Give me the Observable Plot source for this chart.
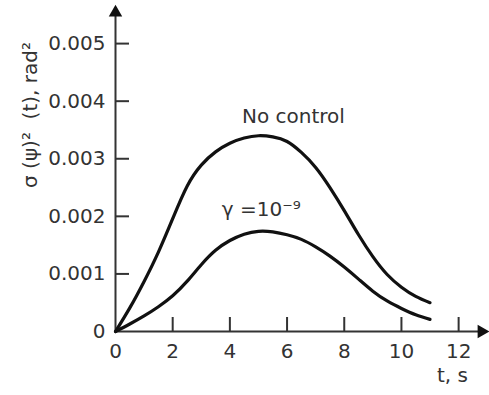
<!DOCTYPE html>
<html>
<head>
<meta charset="utf-8">
<script src="https://cdn.jsdelivr.net/npm/d3@7"></script>
<script src="https://cdn.jsdelivr.net/npm/@observablehq/plot@0.6"></script>
<style>
  html, body { margin: 0; padding: 0; background: #fff; }
  #chart svg { display: block; }
</style>
</head>
<body>
<div id="chart"></div>
<script>
// ---- data ----
const tValues = [0, 0.5, 1, 1.5, 2, 2.5, 3, 3.5, 4, 4.5, 5, 5.5, 6, 6.5, 7, 7.5, 8, 8.5, 9, 9.5, 10, 10.5, 11];
const noControl = [0, 0.00041, 0.00087, 0.00138, 0.00196, 0.00252, 0.00289, 0.00312, 0.00327, 0.00336, 0.0034, 0.00338, 0.0033, 0.00311, 0.00285, 0.0025, 0.0021, 0.00168, 0.0013, 0.00099, 0.00077, 0.00061, 0.0005];
const gammaControl = [0, 0.00013, 0.00027, 0.00043, 0.00062, 0.00087, 0.00116, 0.00141, 0.00158, 0.00169, 0.00174, 0.00173, 0.00168, 0.0016, 0.00147, 0.00131, 0.00112, 0.00091, 0.0007, 0.00053, 0.0004, 0.00029, 0.00021];
const xTicks = [0, 2, 4, 6, 8, 10, 12];
const yTicks = [0, 0.001, 0.002, 0.003, 0.004, 0.005];
const xMax = 12.8;
const yMax = 0.00554;
const yLabel = "σ (ψ)²  (t), rad²";
const xLabel = "t, s";
const curveLabels = [
  {t: 6.22, v: 0.00373, text: "No control"},
  {t: 5.1, v: 0.00212, text: "γ =10⁻⁹"}
];

const noCtl = tValues.map((t, i) => ({t, v: noControl[i]}));
const gam = tValues.map((t, i) => ({t, v: gammaControl[i]}));

const ink = "#111";
const textInk = "#333";
const font = "DejaVu Sans";

const chart = Plot.plot({
  width: 489,
  height: 395,
  marginLeft: 115,
  marginRight: 8,
  marginTop: 12,
  marginBottom: 64,
  style: {fontFamily: font, fontSize: "20px", color: textInk, background: "#fff"},
  x: {domain: [0, xMax]},
  y: {domain: [0, yMax]},
  marks: [
    // axis lines
    Plot.ruleY([0], {stroke: "#333", strokeWidth: 2}),
    Plot.ruleX([0], {stroke: "#333", strokeWidth: 2}),
    // arrowheads
    Plot.dot([0], {x: d => d, frameAnchor: "top", symbol: "triangle", r: 5, fill: ink, stroke: null}),
    Plot.dot([0], {y: d => d, frameAnchor: "right", symbol: "triangle", rotate: 90, r: 5, fill: ink, stroke: null}),
    // inward ticks
    Plot.ruleX(xTicks.filter(d => d > 0), {x: d => d, y1: 0, y2: 0, insetTop: -14, stroke: "#333", strokeWidth: 2}),
    Plot.ruleY(yTicks.filter(d => d > 0), {y: d => d, x1: 0, x2: 0, insetRight: -14, stroke: "#333", strokeWidth: 2}),
    // tick labels
    Plot.axisX({ticks: xTicks, tickSize: 0, tickPadding: 12, label: null, fontSize: 20, fill: textInk}),
    Plot.axisY({ticks: yTicks, tickSize: 0, tickPadding: 10, label: null, fontSize: 20, fill: textInk,
      tickFormat: d => d === 0 ? "0" : d3.format(".3f")(d)}),
    // curves
    Plot.line(noCtl, {x: "t", y: "v", curve: "natural", stroke: ink, strokeWidth: 3.2}),
    Plot.line(gam, {x: "t", y: "v", curve: "natural", stroke: ink, strokeWidth: 3.2}),
    // labels
    Plot.text(curveLabels, {x: "t", y: "v", text: "text", fontSize: 20, fill: textInk}),
    Plot.text([yLabel], {text: d => d, frameAnchor: "left", textAnchor: "middle", rotate: -90, dx: -85, dy: -57, fontSize: 20, fill: textInk}),
    Plot.text([xLabel], {text: d => d, frameAnchor: "bottom-right", textAnchor: "middle", dx: -29, dy: 50, fontSize: 20, fill: textInk})
  ]
});
document.getElementById("chart").appendChild(chart);
</script>
</body>
</html>
